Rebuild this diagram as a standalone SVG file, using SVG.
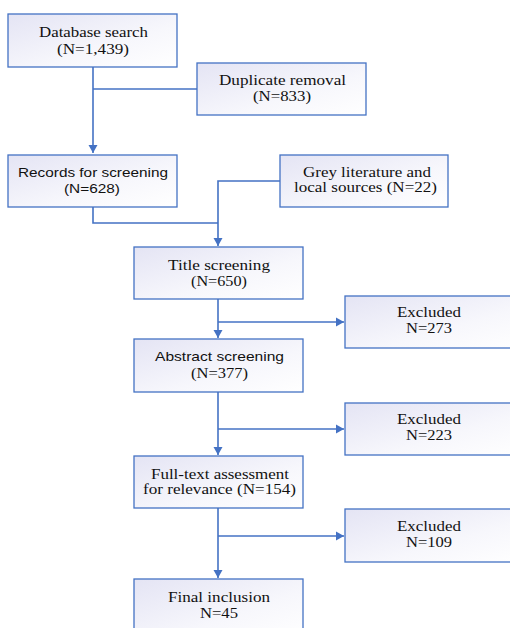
<svg xmlns="http://www.w3.org/2000/svg" width="510" height="628" viewBox="0 0 510 628">
<defs>
<linearGradient id="g" x1="0" y1="0" x2="1" y2="1">
<stop offset="0" stop-color="#e4e4f4"/>
<stop offset="0.6" stop-color="#f7f7fc"/>
<stop offset="1" stop-color="#ffffff"/>
</linearGradient>
<marker id="ah" markerWidth="10" markerHeight="10" refX="8" refY="5" orient="auto" markerUnits="userSpaceOnUse">
<path d="M0,0.5 L8,5 L0,9.5 Z" fill="#4472c4"/>
</marker>
<style>
.box{fill:url(#g);stroke:#4472c4;stroke-width:1.3}
.t{font-family:'Liberation Serif','DejaVu Serif',serif;font-size:14.5px;fill:#111;text-anchor:middle}
.s{font-family:'Liberation Sans',Arial,sans-serif;font-size:13.5px;fill:#111;text-anchor:middle}
.c{fill:none;stroke:#4472c4;stroke-width:1.6}
</style>
</defs>
<rect width="510" height="628" fill="#ffffff"/>
<g id="connectors">
<path class="c" d="M93,67 V153" marker-end="url(#ah)"/>
<path class="c" d="M93,89 H197"/>
<path class="c" d="M93,207 V223 H218"/>
<path class="c" d="M280,181 H218 V246" marker-end="url(#ah)"/>
<path class="c" d="M218,299 V338" marker-end="url(#ah)"/>
<path class="c" d="M218,322 H344" marker-end="url(#ah)"/>
<path class="c" d="M218,392 V455" marker-end="url(#ah)"/>
<path class="c" d="M218,429 H344" marker-end="url(#ah)"/>
<path class="c" d="M218,508 V578" marker-end="url(#ah)"/>
<path class="c" d="M218,536 H344" marker-end="url(#ah)"/>
</g>
<g id="database">
<rect class="box" x="8" y="14" width="169" height="53"/>
<text class="t" font-family="Liberation Serif, serif" x="93.5" y="37" textLength="109" lengthAdjust="spacingAndGlyphs">Database search</text>
<text class="t" font-family="Liberation Serif, serif" x="93" y="54" textLength="72" lengthAdjust="spacingAndGlyphs">(N=1,439)</text>
</g>
<g id="duplicate">
<rect class="box" x="197" y="63" width="169" height="52"/>
<text class="t" x="282.5" y="85" textLength="127" lengthAdjust="spacingAndGlyphs">Duplicate removal</text>
<text class="t" x="282" y="101" textLength="58" lengthAdjust="spacingAndGlyphs">(N=833)</text>
</g>
<g id="records">
<rect class="box" x="8" y="155" width="169" height="52"/>
<text class="s" x="93" y="177" textLength="150" lengthAdjust="spacingAndGlyphs">Records for screening</text>
<text class="s" x="92" y="193" textLength="56" lengthAdjust="spacingAndGlyphs">(N=628)</text>
</g>
<g id="grey">
<rect class="box" x="280" y="155" width="168" height="52"/>
<text class="t" x="367" y="177" textLength="128" lengthAdjust="spacingAndGlyphs">Grey literature and</text>
<text class="t" x="365.5" y="192" textLength="143" lengthAdjust="spacingAndGlyphs">local sources (N=22)</text>
</g>
<g id="title">
<rect class="box" x="134" y="247" width="169" height="52"/>
<text class="t" x="219" y="270" textLength="102" lengthAdjust="spacingAndGlyphs">Title screening</text>
<text class="t" x="219" y="286" textLength="56" lengthAdjust="spacingAndGlyphs">(N=650)</text>
</g>
<g id="excluded1">
<rect class="box" x="345" y="296" width="180" height="52"/>
<text class="t" x="429" y="317" textLength="64" lengthAdjust="spacingAndGlyphs">Excluded</text>
<text class="t" x="429" y="333" textLength="46" lengthAdjust="spacingAndGlyphs">N=273</text>
</g>
<g id="abstract">
<rect class="box" x="134" y="339" width="169" height="53"/>
<text class="s" x="219.5" y="361" textLength="129" lengthAdjust="spacingAndGlyphs">Abstract screening</text>
<text class="t" x="219.5" y="378" textLength="57" lengthAdjust="spacingAndGlyphs">(N=377)</text>
</g>
<g id="excluded2">
<rect class="box" x="345" y="403" width="180" height="52"/>
<text class="t" x="429" y="424" textLength="64" lengthAdjust="spacingAndGlyphs">Excluded</text>
<text class="t" x="429" y="440" textLength="46" lengthAdjust="spacingAndGlyphs">N=223</text>
</g>
<g id="fulltext">
<rect class="box" x="134" y="456" width="169" height="52"/>
<text class="t" x="220" y="479" textLength="138" lengthAdjust="spacingAndGlyphs">Full-text assessment</text>
<text class="t" x="219.5" y="494" textLength="153" lengthAdjust="spacingAndGlyphs">for relevance (N=154)</text>
</g>
<g id="excluded3">
<rect class="box" x="345" y="509" width="180" height="53"/>
<text class="t" x="429" y="531" textLength="64" lengthAdjust="spacingAndGlyphs">Excluded</text>
<text class="t" x="429" y="547" textLength="46" lengthAdjust="spacingAndGlyphs">N=109</text>
</g>
<g id="final">
<rect class="box" x="134" y="579" width="169" height="60"/>
<text class="t" x="219" y="602" textLength="102" lengthAdjust="spacingAndGlyphs">Final inclusion</text>
<text class="t" x="219" y="618" textLength="38" lengthAdjust="spacingAndGlyphs">N=45</text>
</g>
</svg>
